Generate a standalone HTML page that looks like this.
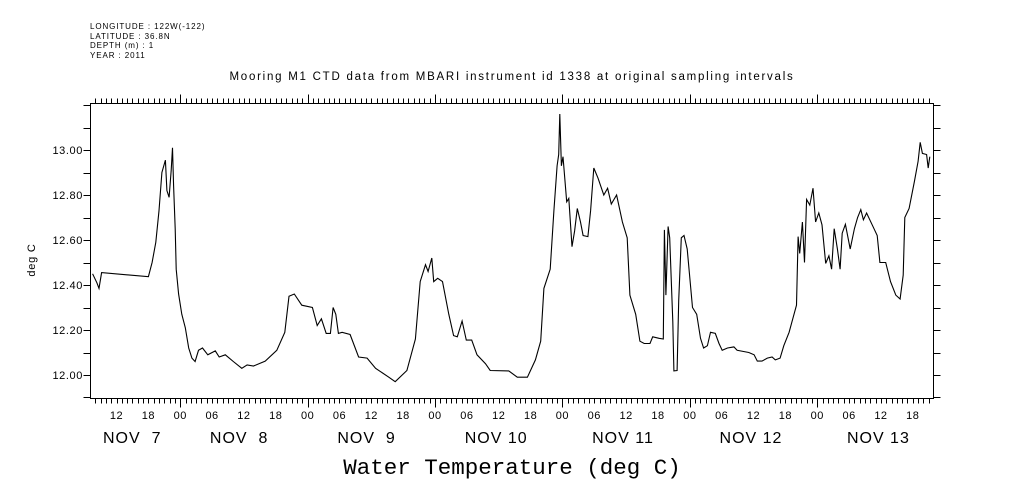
<!DOCTYPE html>
<html><head><meta charset="utf-8">
<style>
html,body{margin:0;padding:0;background:#fff;}
svg{display:block;font-family:"Liberation Sans",sans-serif;}
</style></head>
<body>
<svg id="chart" width="1009" height="504" viewBox="0 0 1009 504" xmlns="http://www.w3.org/2000/svg">
<g font-size="8" fill="#000" letter-spacing="0.9">
<text x="90" y="29">LONGITUDE : 122W(-122)</text>
<text x="90" y="39">LATITUDE : 36.8N</text>
<text x="90" y="48">DEPTH (m) : 1</text>
<text x="90" y="58">YEAR : 2011</text>
</g>
<text x="512" y="80" font-size="11.5" letter-spacing="1.75" text-anchor="middle">Mooring M1 CTD data from MBARI instrument id 1338 at original sampling intervals</text>
<text x="0" y="0" font-size="11" letter-spacing="0.8" text-anchor="middle" transform="translate(35,260) rotate(-90)">deg C</text>
<text x="512" y="474" font-family="Liberation Mono, monospace" font-size="22.5" text-anchor="middle">Water Temperature (deg C)</text>
<rect x="90.5" y="103.5" width="843" height="295" fill="none" stroke="#000" stroke-width="1"/>
<g id="axes"></g>
<path id="series" fill="none" stroke="#000" stroke-width="1.1"/>
</svg>
<script>
// hours relative to Nov 8 00:00
const hours = [-16.5,-15.7,-15.3,-14.8,-6.0,-5.3,-4.6,-4.0,-3.45,-2.8,-2.5,-2.1,-1.7,-1.45,-1.25,-0.95,-0.75,-0.3,0.3,0.95,1.6,2.2,2.8,3.45,4.2,5.2,6.6,7.35,8.5,10.0,11.6,12.6,13.8,16.0,18.2,19.7,20.5,21.5,22.9,24.9,25.8,26.6,27.5,28.3,28.8,29.3,29.8,30.5,32.0,33.6,35.2,36.8,39.3,40.5,42.7,44.3,45.2,46.2,46.7,47.4,47.75,48.5,49.4,50.6,51.5,52.2,53.1,53.9,54.9,55.9,57.5,58.4,61.9,63.5,65.4,66.9,67.9,68.5,69.7,70.4,71.0,71.3,71.5,71.8,72.1,72.8,73.2,73.8,74.3,74.8,75.4,75.9,76.8,77.3,77.9,78.7,79.8,80.5,81.2,82.2,83.3,84.2,84.7,85.8,86.6,87.4,88.5,89.0,90.2,91.0,91.2,91.5,91.9,92.2,92.8,93.0,93.6,93.9,94.4,94.9,95.5,96.5,97.3,98.0,98.6,99.3,99.9,100.8,101.5,102.1,103.1,104.3,104.9,107.1,108.1,108.7,109.6,110.6,111.5,112.1,113.0,113.7,114.7,115.5,116.1,116.4,116.7,117.2,117.6,118.0,118.6,119.2,119.7,120.3,120.9,121.6,122.2,122.7,123.2,123.8,124.3,124.7,125.3,126.2,127.0,127.6,128.2,128.7,129.3,130.7,131.3,131.8,132.9,133.8,134.8,135.6,136.2,136.5,137.3,138.3,139.0,139.4,139.8,140.6,140.9,141.2];
const temps = [12.45,12.41,12.385,12.455,12.437,12.50,12.59,12.73,12.90,12.955,12.82,12.79,12.91,13.01,12.84,12.65,12.47,12.36,12.27,12.21,12.12,12.075,12.06,12.11,12.12,12.09,12.107,12.08,12.09,12.06,12.03,12.045,12.04,12.062,12.11,12.19,12.35,12.36,12.31,12.30,12.22,12.25,12.185,12.185,12.30,12.27,12.185,12.19,12.18,12.08,12.075,12.03,11.99,11.97,12.02,12.16,12.415,12.49,12.46,12.52,12.415,12.43,12.415,12.27,12.175,12.17,12.24,12.155,12.155,12.09,12.05,12.02,12.018,11.99,11.99,12.067,12.15,12.385,12.47,12.73,12.93,12.98,13.16,12.93,12.97,12.77,12.785,12.57,12.64,12.74,12.68,12.62,12.615,12.73,12.92,12.875,12.80,12.83,12.76,12.80,12.68,12.61,12.355,12.27,12.15,12.14,12.14,12.17,12.163,12.16,12.645,12.355,12.66,12.61,12.237,12.018,12.02,12.33,12.61,12.62,12.56,12.30,12.27,12.163,12.12,12.13,12.19,12.185,12.14,12.11,12.12,12.125,12.11,12.10,12.09,12.062,12.062,12.075,12.08,12.067,12.075,12.13,12.19,12.26,12.31,12.615,12.54,12.68,12.50,12.78,12.755,12.83,12.68,12.72,12.667,12.496,12.53,12.47,12.65,12.56,12.47,12.63,12.67,12.56,12.65,12.70,12.735,12.69,12.72,12.65,12.62,12.50,12.50,12.415,12.355,12.338,12.444,12.70,12.74,12.86,12.95,13.034,12.985,12.98,12.92,12.97];
const yTicks = [12.00,12.20,12.40,12.60,12.80,13.00];
const hourLabels = ["00","06","12","18"];
const dayLabels = ["NOV  7","NOV  8","NOV  9","NOV 10","NOV 11","NOV 12","NOV 13"];

const X0=90.5, X1=933.5, Y0=103.5, Y1=398.5;
const H0=-16.9, H1=141.9;
const x = h => X0 + (h-H0)/(H1-H0)*(X1-X0);
const y = t => 375 - (t-12)*225;
const NS="http://www.w3.org/2000/svg";
const axes=document.getElementById('axes');
function mk(tag,attrs){const e=document.createElementNS(NS,tag);for(const k in attrs)e.setAttribute(k,attrs[k]);axes.appendChild(e);return e;}

let d="";
for(let h=Math.ceil(H0);h<=H1;h++){
  const px=Math.round(x(h))+0.5;
  const major = ((h%24)+24)%24===0;
  d+=`M${px} ${Y1}V${Y1+(major?9:5)}M${px} ${Y0}V${Y0-(major?9:5)}`;
}
for(let v=11.9;v<=13.31;v+=0.1){
  const py=Math.round(y(v))+0.5;
  if(py<Y0||py>Y1)continue;
  d+=`M${X0} ${py}H${X0-7}M${X1} ${py}H${X1+7}`;
}
const tk=mk('path',{d:d,stroke:'#000','stroke-width':1,fill:'none'});



yTicks.forEach(v=>{
  const t=mk('text',{x:83,y:y(v)+4,'font-size':11,'text-anchor':'end','letter-spacing':0.6});
  
  
  t.textContent=v.toFixed(2);
});
for(let h=Math.ceil(H0/6)*6;h<=H1;h+=6){
  const t=mk('text',{x:x(h),y:419,'font-size':11,'text-anchor':'middle','letter-spacing':0.5});
  
  
  t.textContent=hourLabels[((h/6)%4+4)%4];
}
dayLabels.forEach((lab,i)=>{
  const noon=(i-1)*24+12;
  const lx = i===0 ? 103 : x(noon)-34;
  const t=mk('text',{x:lx,y:443,'font-size':16,'letter-spacing':1});
  
  
  t.style.whiteSpace='pre';
  t.textContent=lab;
});
let p="";
hours.forEach((h,i)=>{p+=(i?"L":"M")+x(h).toFixed(1)+" "+y(temps[i]).toFixed(1);});
document.getElementById('series').setAttribute('d',p);
</script>
</body></html>
